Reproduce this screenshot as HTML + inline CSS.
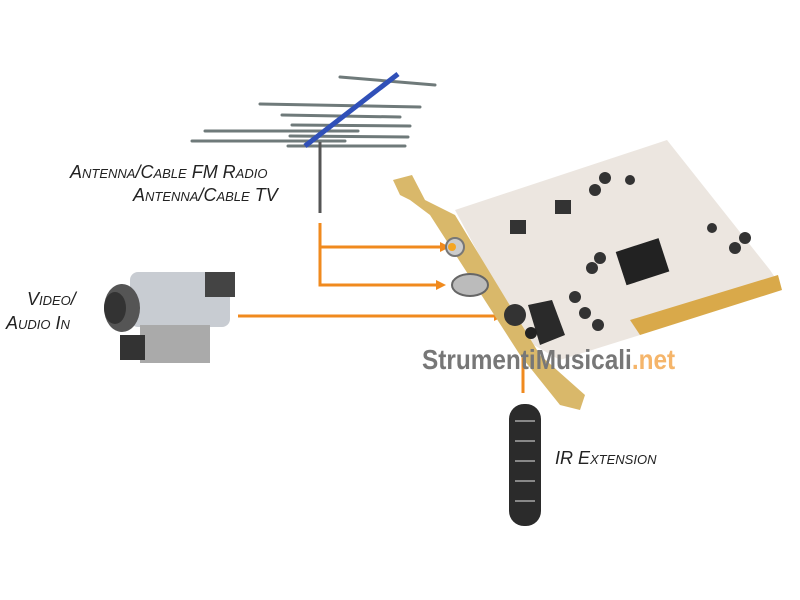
<!DOCTYPE html>
<html><head><style>
body{margin:0;background:#fff;width:800px;height:600px;overflow:hidden;position:relative;font-family:"Liberation Sans",sans-serif}
.l{position:absolute;font-style:italic;font-variant:small-caps;font-size:18px;color:#222;white-space:nowrap}
</style></head><body>
<svg width="800" height="600" style="position:absolute;left:0;top:0">
<g stroke="#6f7a7a" stroke-width="3" stroke-linecap="round">
<line x1="340" y1="77" x2="435" y2="85"/>
<line x1="260" y1="104" x2="420" y2="107"/>
<line x1="282" y1="115" x2="400" y2="117"/>
<line x1="292" y1="125" x2="410" y2="126"/>
<line x1="205" y1="131" x2="358" y2="131"/>
<line x1="290" y1="136" x2="408" y2="137"/>
<line x1="192" y1="141" x2="345" y2="141"/>
<line x1="288" y1="146" x2="405" y2="146"/>
</g>
<line x1="305" y1="146" x2="398" y2="74" stroke="#3050b8" stroke-width="5"/>
<line x1="320" y1="142" x2="320" y2="213" stroke="#555" stroke-width="3"/>
<g stroke="#f08a1e" stroke-width="3" fill="none">
<polyline points="320,223 320,285 440,285"/>
<line x1="320" y1="247" x2="444" y2="247"/>
<line x1="238" y1="316" x2="497" y2="316"/>
<line x1="523" y1="340" x2="523" y2="393"/>
</g>
<g fill="#f08a1e">
<polygon points="440,242 450,247 440,252"/>
<polygon points="436,280 446,285 436,290"/>
<polygon points="494,311 504,316 494,321"/>
</g>
<polygon points="455,210 667,140 770,270 780,285 640,335 560,360 525,340" fill="#ece6e0"/>
<polygon points="630,320 778,275 782,290 640,335" fill="#d9a94a"/>
<rect x="620" y="245" width="45" height="35" fill="#222" transform="rotate(-18 640 262)"/>
<rect x="555" y="200" width="16" height="14" fill="#333"/>
<rect x="510" y="220" width="16" height="14" fill="#333"/>
<g fill="#333"><circle cx="595" cy="190" r="6"/><circle cx="605" cy="178" r="6"/><circle cx="630" cy="180" r="5"/><circle cx="600" cy="258" r="6"/><circle cx="592" cy="268" r="6"/><circle cx="735" cy="248" r="6"/><circle cx="745" cy="238" r="6"/><circle cx="575" cy="297" r="6"/><circle cx="585" cy="313" r="6"/><circle cx="598" cy="325" r="6"/><circle cx="712" cy="228" r="5"/></g>
<polygon points="393,180 412,175 425,200 455,215 540,355 585,395 580,410 560,405 520,355 430,215 410,200 400,195" fill="#d9b86a"/>
<polygon points="528,305 552,300 565,335 540,345" fill="#2a2a2a"/>
<circle cx="455" cy="247" r="9" fill="#ccc" stroke="#777" stroke-width="2"/><circle cx="452" cy="247" r="4" fill="#f5a623"/>
<ellipse cx="470" cy="285" rx="18" ry="11" fill="#bbb" stroke="#666" stroke-width="2"/>
<circle cx="515" cy="315" r="11" fill="#333"/><circle cx="531" cy="333" r="6" fill="#222"/>
<g>
<rect x="130" y="272" width="100" height="55" rx="8" fill="#c8ccd2"/>
<rect x="205" y="272" width="30" height="25" fill="#444"/>
<ellipse cx="122" cy="308" rx="18" ry="24" fill="#555"/>
<ellipse cx="115" cy="308" rx="11" ry="16" fill="#333"/>
<rect x="140" y="325" width="70" height="38" fill="#aaa"/>
<rect x="120" y="335" width="25" height="25" fill="#333"/>
</g>
<rect x="509" y="404" width="32" height="122" rx="15" fill="#2b2b2b"/>
<g fill="#888"><rect x="515" y="420" width="20" height="2"/><rect x="515" y="440" width="20" height="2"/><rect x="515" y="460" width="20" height="2"/><rect x="515" y="480" width="20" height="2"/><rect x="515" y="500" width="20" height="2"/></g>
</svg>
<div class="l" style="left:70px;top:162px">Antenna/Cable FM Radio</div>
<div class="l" style="left:133px;top:185px">Antenna/Cable TV</div>
<div class="l" style="left:27px;top:289px">Video/</div>
<div class="l" style="left:6px;top:313px">Audio In</div>
<div class="l" style="left:555px;top:448px">IR Extension</div>
<div style="position:absolute;left:422px;top:344px;font-size:28px;font-weight:bold;color:#777;white-space:nowrap;transform:scaleX(.87);transform-origin:left top">StrumentiMusicali<span style="color:#f5b56a">.net</span></div>
</body></html>
